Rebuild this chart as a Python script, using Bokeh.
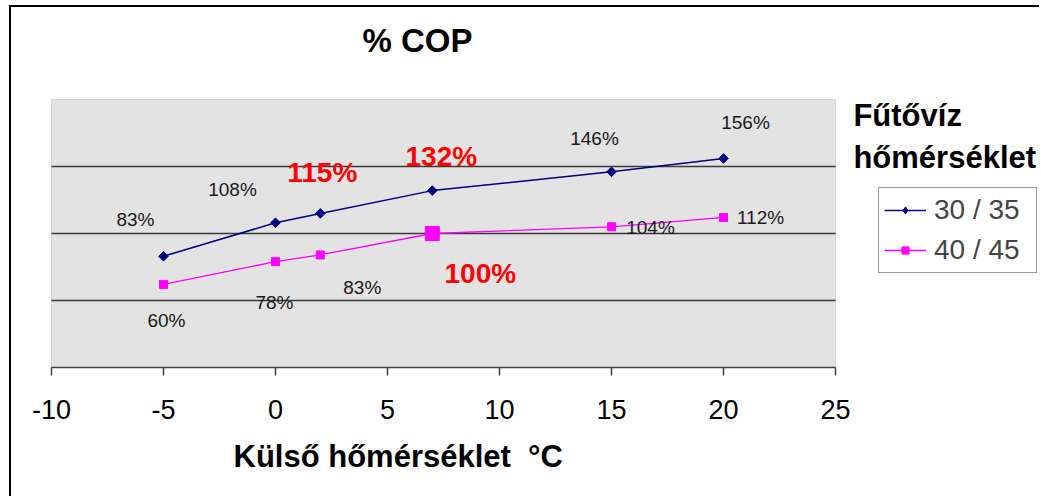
import math
from bokeh.plotting import figure
from bokeh.models import (Range1d, FixedTicker, Label, LabelSet, BoxAnnotation, Title,
                          ColumnDataSource, Legend, LegendItem, PrintfTickFormatter)
from bokeh.core.properties import value
from bokeh.embed import file_html
from bokeh.resources import INLINE

# ---- data ----
temps = [-5, 0, 2, 7, 15, 20]
cop_30_35 = [83, 108, 115, 132, 146, 156]
cop_40_45 = [62, 79, 84, 100, 105, 112]
labels_30_35 = ["83%", "108%", "115%", "132%", "146%", "156%"]
labels_40_45 = ["60%", "78%", "83%", "100%", "104%", "112%"]
series_names = ["30 / 35", "40 / 45"]
x_ticks = [-10, -5, 0, 5, 10, 15, 20, 25]
grid_levels = [50, 100, 150]
y_top = 200

FONT = "Liberation Sans"
NAVY = "#000080"
MAGENTA = "#FF00FF"
RED = "#FF0000"

# canvas geometry (host has 9px/5px margin + 2px border)
W, H = 1030, 491
FRAME_BOTTOM = 360          # canvas px of the x axis
PX_PER_X = 22.4
PX_PER_Y = 1.34
X0_PX = 40                  # canvas px of x = -10
x_start = x_ticks[0] - X0_PX / PX_PER_X
x_end = x_ticks[0] + (W - X0_PX) / PX_PER_X
y_end = FRAME_BOTTOM / PX_PER_Y

p = figure(width=W, height=H, x_range=Range1d(x_start, x_end), y_range=Range1d(0, y_end),
           output_backend="svg", toolbar_location=None, y_axis_location=None,
           min_border_left=0, min_border_top=0, min_border_right=0,
           min_border_bottom=H - FRAME_BOTTOM)
p.styles = {"border-top": "2px solid black", "border-left": "2px solid black",
            "margin-left": "9px", "margin-top": "5px"}
p.background_fill_color = "white"
p.border_fill_color = "white"
p.outline_line_color = None
p.xgrid.visible = False
p.ygrid.visible = False

# plot area
p.add_layout(BoxAnnotation(left=x_ticks[0], right=x_ticks[-1], bottom=0, top=y_top,
                           fill_color="#E3E3E3", fill_alpha=1, line_color="#9A9A9A",
                           line_width=1, level="underlay"))
p.segment(x0=[x_ticks[0]] * len(grid_levels), x1=[x_ticks[-1]] * len(grid_levels),
          y0=grid_levels, y1=grid_levels, line_color="#3A3A3A", line_width=1.5)

ax = p.xaxis[0]
ax.ticker = FixedTicker(ticks=x_ticks)
ax.bounds = (x_ticks[0], x_ticks[-1])
ax.formatter = PrintfTickFormatter(format="%d")
ax.major_label_text_font = FONT
ax.major_label_text_font_size = "27px"
ax.major_label_text_color = "black"
ax.axis_line_color = "#404040"
ax.axis_line_width = 1.5
ax.major_tick_line_color = "#404040"
ax.major_tick_line_width = 1.5
ax.major_tick_out = 8
ax.major_tick_in = 0
ax.minor_tick_line_color = None
ax.major_label_standoff = 24

# ---- series ----
l1 = p.line(temps, cop_30_35, line_color=NAVY, line_width=1.5)
# diamond glyph (used as the legend swatch), covered by the wider rotated square
d1 = p.scatter(temps, cop_30_35, marker="diamond", size=8, fill_color=NAVY, line_color=NAVY)
p.scatter(temps, cop_30_35, marker="square", angle=math.pi / 4, size=6.8,
          fill_color=NAVY, line_color=NAVY)
l2 = p.line(temps, cop_40_45, line_color=MAGENTA, line_width=1.3)
s2 = p.scatter(temps, cop_40_45, marker="square", size=8, fill_color=MAGENTA, line_color=MAGENTA)

ref_i = cop_40_45.index(100)
p.scatter([temps[ref_i]], [cop_40_45[ref_i]], marker="square", size=14,
          fill_color=MAGENTA, line_color=MAGENTA)

# ---- data labels ----
off_a = [(-28, 30), (-43, 27), (2, 31), (9, 25), (-17, 27), (22, 29)]
off_b = [(3, -43), (-1, -47), (42, -39), (48, -49), (39, -7), (37, -7)]
emph_a = {2, 3}
emph_b = {3}

def label_source(ys, texts, offs, emph):
    n = len(ys)
    return ColumnDataSource(dict(
        x=temps, y=ys, text=texts,
        xo=[o[0] for o in offs], yo=[o[1] for o in offs],
        color=[RED if i in emph else "#1A1A1A" for i in range(n)],
        size=["28px" if i in emph else "19px" for i in range(n)],
        style=["bold" if i in emph else "normal" for i in range(n)],
    ))

for src in (label_source(cop_30_35, labels_30_35, off_a, emph_a),
            label_source(cop_40_45, labels_40_45, off_b, emph_b)):
    p.add_layout(LabelSet(x="x", y="y", text="text", x_offset="xo", y_offset="yo",
                          text_color="color", text_font_size="size",
                          text_font_style="style", text_align="center",
                          text_baseline="alphabetic", text_font=value(FONT),
                          source=src))

# ---- titles ----
def big_label(x, y, text, size, align="left"):
    p.add_layout(Label(x=x, y=y, text=text, text_align=align,
                       text_baseline="alphabetic", text_font=FONT,
                       text_font_size=size, text_font_style="bold", text_color="black"))

big_label(6.34, 244.0, "% COP", "33px", "center")
big_label(25.8, 188.1, "Fűtővíz", "31px")
big_label(25.8, 156.7, "hőmérséklet", "31px")

p.add_layout(Title(text="Külső hőmérséklet \u00a0°C", align="left", offset=222,
                   text_font=FONT, text_font_size="31px", text_font_style="bold",
                   text_color="black", standoff=30), "below")

# ---- legend ----
legend = Legend(items=[LegendItem(label=series_names[0], renderers=[l1, d1], index=0),
                       LegendItem(label=series_names[1], renderers=[l2, s2], index=0)],
                location=(867, 94), border_line_color="#333333", border_line_width=1.5,
                background_fill_color="white", background_fill_alpha=1,
                label_text_font=FONT, label_text_font_size="28px",
                glyph_width=42, glyph_height=18, label_height=34, label_width=97,
                spacing=6, padding=5, margin=0, label_standoff=8)
p.add_layout(legend)

open("out.html", "w").write(file_html(p, INLINE))
